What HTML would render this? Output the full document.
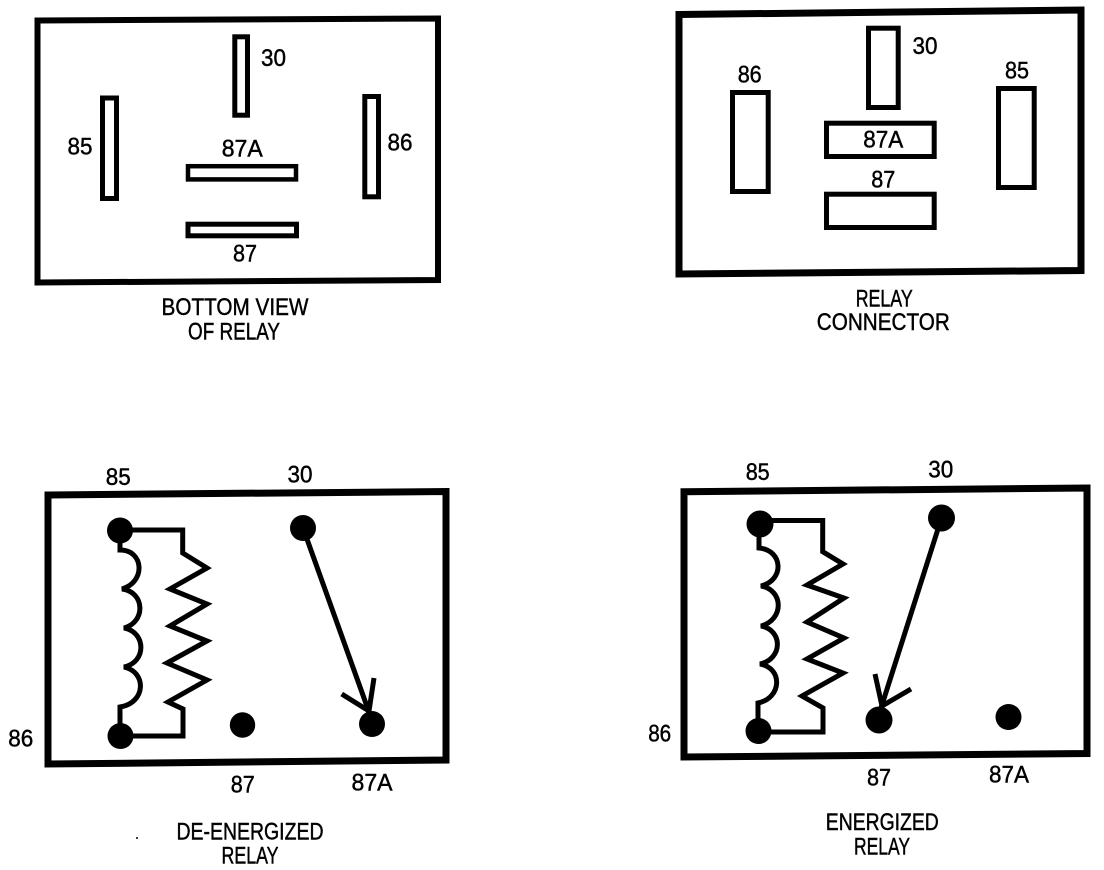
<!DOCTYPE html>
<html>
<head>
<meta charset="utf-8">
<style>
html,body{margin:0;padding:0;background:#fff;}
svg{display:block;}
text{font-family:"Liberation Sans",sans-serif;font-size:24px;fill:#000;stroke:#000;stroke-width:.45px;text-anchor:middle;}
</style>
</head>
<body>
<svg width="1104" height="870" viewBox="0 0 1104 870" xmlns="http://www.w3.org/2000/svg">
<g fill="none" stroke="#000" stroke-linejoin="miter">
<!-- Outer boxes -->
<path d="M37.5 20.5L438 18.5V280L37.5 282.5Z" stroke-width="6"/>
<path d="M679 14.5L1081 10V270.5L679 274Z" stroke-width="7"/>
<path d="M48 495L446 491.5V760L48 764Z" stroke-width="7"/>
<path d="M684 491.7L1087 488V753.5L684 757Z" stroke-width="7"/>

<!-- Bottom view pins -->
<rect x="234.8" y="36.8" width="12.7" height="78.4" stroke-width="5"/>
<rect x="102.5" y="98" width="14" height="100.5" stroke-width="5"/>
<rect x="364.8" y="96.5" width="13.7" height="100.3" stroke-width="5"/>
<rect x="188" y="166.2" width="108" height="13.2" stroke-width="4.5"/>
<rect x="188" y="224.2" width="108.5" height="11.6" stroke-width="5"/>

<!-- Connector pins -->
<rect x="868.5" y="28.2" width="29.7" height="79.3" stroke-width="5"/>
<rect x="732.5" y="92.5" width="35.7" height="99" stroke-width="5"/>
<rect x="998.5" y="88.5" width="35.7" height="99" stroke-width="5"/>
<rect x="826.5" y="123.2" width="107.7" height="33.3" stroke-width="5"/>
<rect x="826.5" y="194.2" width="107.7" height="33.3" stroke-width="5"/>
</g>

<!-- De-energized -->
<g fill="none" stroke="#000" stroke-width="5">
<path d="M120 530H182.7V553L207 568L170 589L207 604L170 626L207 641L167 663L207 680L168 702L183 709V736H120"/>
<path d="M120 530V550C144 550 146 582 122 589C145 592 146 622 124 628C146 632 147 662 124 667C147 672 146 703 120 707V736"/>
<path d="M303 528L369 712"/>
<path d="M341.7 694L369 711L374 678"/>
</g>
<g fill="#000">
<circle cx="120" cy="530.5" r="13"/>
<circle cx="120.5" cy="736" r="13"/>
<circle cx="303" cy="528" r="13"/>
<circle cx="242.5" cy="725" r="12.7"/>
<circle cx="372" cy="724" r="13"/>
<circle cx="137" cy="838" r="1"/>
</g>

<!-- Energized -->
<g fill="none" stroke="#000" stroke-width="5">
<path d="M760 520.5H822.7V551.7L843 564L807 585L844 598L807 622L844 638L807 659L843 673L802 696L823 708V732H758"/>
<path d="M759 524V548C783 550 785 580 761 586C784 590 784 620 761 626C783 630 783 659 760 664C783 668 782 698 758 703V731"/>
<path d="M941.5 518L881 708"/>
<path d="M875 674L882 706L911 689"/>
</g>
<g fill="#000">
<circle cx="760" cy="524" r="13.5"/>
<circle cx="758.5" cy="731" r="13"/>
<circle cx="941.5" cy="518" r="13.5"/>
<circle cx="879" cy="720" r="13.5"/>
<circle cx="1008.5" cy="717" r="13"/>
</g>

<!-- Labels -->
<text x="273.5" y="66" textLength="25" lengthAdjust="spacingAndGlyphs">30</text>
<text x="80" y="154.3" textLength="25" lengthAdjust="spacingAndGlyphs">85</text>
<text x="400" y="150.7" textLength="25" lengthAdjust="spacingAndGlyphs">86</text>
<text x="242.2" y="156.7" textLength="41" lengthAdjust="spacingAndGlyphs">87A</text>
<text x="245" y="261.7" textLength="24" lengthAdjust="spacingAndGlyphs">87</text>
<text x="235" y="315" textLength="147" lengthAdjust="spacingAndGlyphs">BOTTOM VIEW</text>
<text x="234" y="339.3" textLength="92" lengthAdjust="spacingAndGlyphs">OF RELAY</text>

<text x="925" y="54" textLength="25" lengthAdjust="spacingAndGlyphs">30</text>
<text x="749.7" y="82.3" textLength="24" lengthAdjust="spacingAndGlyphs">86</text>
<text x="1017" y="78.3" textLength="24" lengthAdjust="spacingAndGlyphs">85</text>
<text x="883.3" y="147.7" textLength="40" lengthAdjust="spacingAndGlyphs">87A</text>
<text x="883.3" y="187.7" textLength="24" lengthAdjust="spacingAndGlyphs">87</text>
<text x="884.2" y="306.7" textLength="57" lengthAdjust="spacingAndGlyphs">RELAY</text>
<text x="883.3" y="330" textLength="133" lengthAdjust="spacingAndGlyphs">CONNECTOR</text>

<text x="118.3" y="485" textLength="25" lengthAdjust="spacingAndGlyphs">85</text>
<text x="300" y="482.7" textLength="25" lengthAdjust="spacingAndGlyphs">30</text>
<text x="20.8" y="746.7" textLength="25" lengthAdjust="spacingAndGlyphs">86</text>
<text x="242.8" y="792.7" textLength="24" lengthAdjust="spacingAndGlyphs">87</text>
<text x="372" y="790.7" textLength="41" lengthAdjust="spacingAndGlyphs">87A</text>
<text x="250" y="839.3" textLength="147" lengthAdjust="spacingAndGlyphs">DE-ENERGIZED</text>
<text x="250" y="863.3" textLength="57" lengthAdjust="spacingAndGlyphs">RELAY</text>

<text x="757.7" y="480" textLength="24" lengthAdjust="spacingAndGlyphs">85</text>
<text x="940.8" y="477.3" textLength="25" lengthAdjust="spacingAndGlyphs">30</text>
<text x="659.7" y="741.7" textLength="23" lengthAdjust="spacingAndGlyphs">86</text>
<text x="879" y="785.7" textLength="24" lengthAdjust="spacingAndGlyphs">87</text>
<text x="1009" y="782.3" textLength="40" lengthAdjust="spacingAndGlyphs">87A</text>
<text x="882.3" y="830" textLength="113" lengthAdjust="spacingAndGlyphs">ENERGIZED</text>
<text x="882" y="854.3" textLength="56" lengthAdjust="spacingAndGlyphs">RELAY</text>
</svg>
</body>
</html>
